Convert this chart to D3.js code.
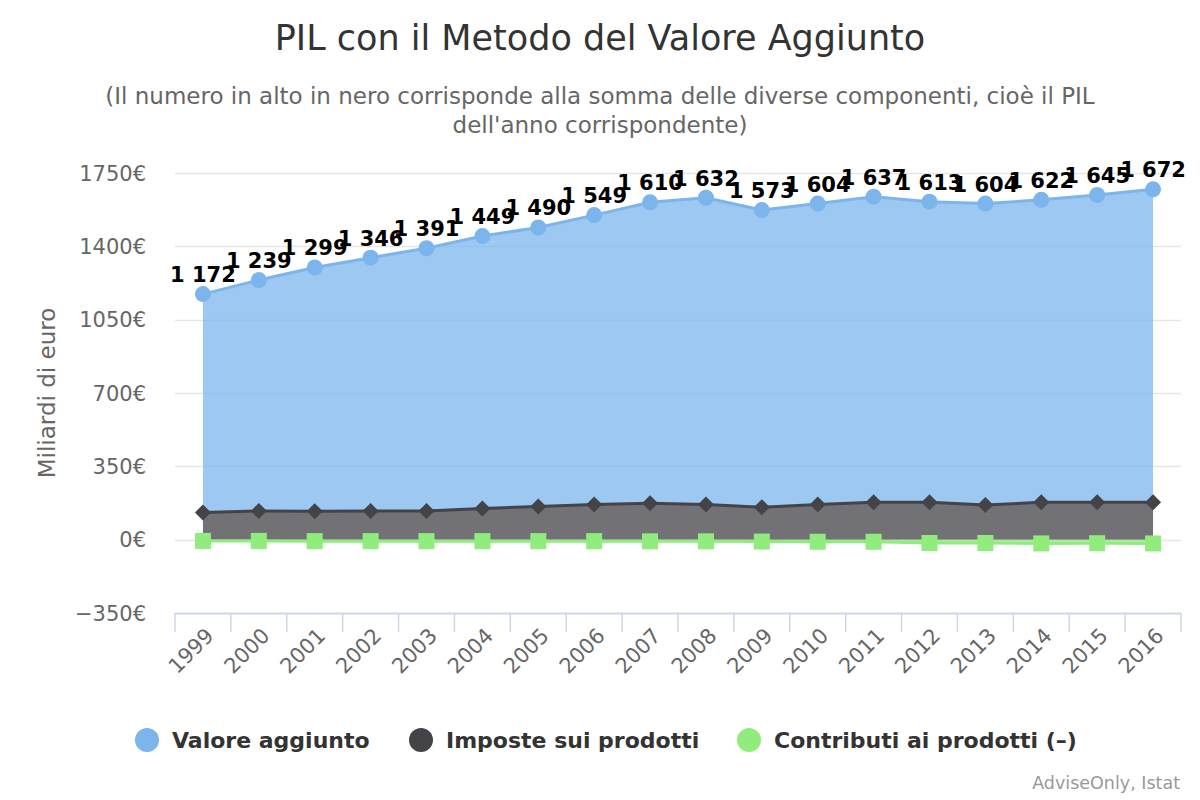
<!DOCTYPE html>
<html>
<head>
<meta charset="utf-8">
<script src="https://cdn.jsdelivr.net/npm/d3@7"></script>
<style>
  body { margin: 0; background: #fff; }
  svg { font-family: "DejaVu Sans", sans-serif; }
</style>
</head>
<body>
<div id="chart"></div>
<script>
// Data (miliardi di euro)
var years = ["1999","2000","2001","2002","2003","2004","2005","2006","2007","2008",
             "2009","2010","2011","2012","2013","2014","2015","2016"];
var valoreAggiunto = [1042,1102,1163,1209,1254,1300,1332,1381,1436,1464,
                      1418,1436,1459,1435,1438,1444,1467,1494];
var imposte = [130,137,136,137,137,149,158,168,174,168,
               155,168,178,178,166,178,178,178];
var contributi = [-6,-6,-7,-7,-7,-7,-7,-7,-8,-8,
                  -9,-10,-10,-16,-16,-18,-17,-18];
var yTicks = [-350,0,350,700,1050,1400,1750];

var seriesNames = ["Valore aggiunto", "Imposte sui prodotti", "Contributi ai prodotti (–)"];
var colors = ["#7cb5ec", "#434348", "#90ed7d"];

var W = 1200, H = 800;
var plot = { left: 175, right: 1181, top: 173, bottom: 613 };

var svg = d3.select("#chart").append("svg")
  .attr("width", W).attr("height", H);

var rows = years.map(function (y, i) {
  return { year: y, va: valoreAggiunto[i], imp: imposte[i], contr: contributi[i] };
});

var x = d3.scaleBand().domain(years).range([plot.left, plot.right]);
var cx = function (d) { return x(d) + x.bandwidth() / 2; };
var y = d3.scaleLinear().domain([-350, 1750]).range([plot.bottom, plot.top]);

// Gridlines
svg.append("g").selectAll("line")
  .data(yTicks.filter(function (t) { return t > -350; }))
  .enter().append("line")
  .attr("x1", plot.left).attr("x2", plot.right)
  .attr("y1", function (d) { return Math.round(y(d)) + 0.5; })
  .attr("y2", function (d) { return Math.round(y(d)) + 0.5; })
  .attr("stroke", "#e6e6e6").attr("stroke-width", 1.5);

// Y axis labels
var euro = d3.format("d");
svg.append("g").selectAll("text")
  .data(yTicks).enter().append("text")
  .attr("x", 146)
  .attr("y", function (d) { return y(d) + 7.5; })
  .attr("text-anchor", "end")
  .style("font-size", "21px")
  .style("fill", "#666666")
  .text(function (d) { return euro(d).replace("-", "−") + "€"; });

svg.append("text")
  .attr("transform", "translate(55," + ((plot.top + plot.bottom) / 2) + ") rotate(-90)")
  .attr("text-anchor", "middle")
  .style("font-size", "23px")
  .style("fill", "#666666")
  .text("Miliardi di euro");

// X axis
var xAxis = svg.append("g");
xAxis.append("line")
  .attr("x1", plot.left).attr("x2", plot.right)
  .attr("y1", plot.bottom + 0.5).attr("y2", plot.bottom + 0.5)
  .attr("stroke", "#ccd6eb").attr("stroke-width", 2);
xAxis.selectAll(".tick")
  .data(years.concat(["end"])).enter().append("line")
  .attr("x1", function (d, i) { return plot.left + i * x.bandwidth(); })
  .attr("x2", function (d, i) { return plot.left + i * x.bandwidth(); })
  .attr("y1", plot.bottom).attr("y2", plot.bottom + 19)
  .attr("stroke", "#ccd6eb").attr("stroke-width", 1.5);
xAxis.selectAll("text")
  .data(years).enter().append("text")
  .attr("transform", function (d) {
    return "translate(" + (cx(d) + 12) + "," + (plot.bottom + 24) + ") rotate(-45)";
  })
  .attr("text-anchor", "end")
  .style("font-size", "21px")
  .style("fill", "#666666")
  .text(function (d) { return d; });

// Stack
var stack = d3.stack()
  .keys(["imp", "va", "contr"])
  .offset(d3.stackOffsetDiverging);
var layers = stack(rows);
var layerByKey = {};
layers.forEach(function (l) { layerByKey[l.key] = l; });

var area = d3.area()
  .x(function (d) { return cx(d.data.year); })
  .y0(function (d) { return y(d[0]); })
  .y1(function (d) { return y(d[1]); });
var line = d3.line()
  .x(function (d) { return cx(d.data.year); })
  .y(function (d) { return y(d[1]); });
var lineNeg = d3.line()
  .x(function (d) { return cx(d.data.year); })
  .y(function (d) { return y(d[0]); });

var order = [
  { key: "va", color: colors[0] },
  { key: "imp", color: colors[1] },
  { key: "contr", color: colors[2] }
];

order.forEach(function (s) {
  var l = layerByKey[s.key];
  svg.append("path").datum(l)
    .attr("d", area)
    .attr("fill", s.color)
    .attr("fill-opacity", 0.75);
});
order.forEach(function (s) {
  var l = layerByKey[s.key];
  svg.append("path").datum(l)
    .attr("d", s.key === "contr" ? lineNeg : line)
    .attr("fill", "none")
    .attr("stroke", s.color)
    .attr("stroke-width", 3);
});

// Markers
svg.append("g").selectAll("circle")
  .data(layerByKey.va).enter().append("circle")
  .attr("cx", function (d) { return cx(d.data.year); })
  .attr("cy", function (d) { return y(d[1]); })
  .attr("r", 8)
  .attr("fill", colors[0]);

svg.append("g").selectAll("path")
  .data(layerByKey.imp).enter().append("path")
  .attr("transform", function (d) {
    return "translate(" + cx(d.data.year) + "," + y(d[1]) + ")";
  })
  .attr("d", "M0,-8L8,0L0,8L-8,0Z")
  .attr("fill", colors[1]);

svg.append("g").selectAll("rect")
  .data(layerByKey.contr).enter().append("rect")
  .attr("x", function (d) { return cx(d.data.year) - 8; })
  .attr("y", function (d) { return y(d[0]) - 8; })
  .attr("width", 16).attr("height", 16)
  .attr("fill", colors[2]);

// Stack totals
var fmt = d3.formatLocale({ decimal: ",", thousands: " ", grouping: [3], currency: ["", "€"] }).format(",.0f");
svg.append("g").selectAll("text")
  .data(rows).enter().append("text")
  .attr("x", function (d) { return cx(d.year); })
  .attr("y", function (d) { return y(d.va + d.imp) - 12; })
  .attr("text-anchor", "middle")
  .style("font-size", "21px")
  .style("font-weight", "bold")
  .style("fill", "#000")
  .text(function (d) { return fmt(d.va + d.imp); });

// Title & subtitle
svg.append("text")
  .attr("x", W / 2).attr("y", 50)
  .attr("text-anchor", "middle")
  .style("font-size", "35px")
  .style("fill", "#333333")
  .text("PIL con il Metodo del Valore Aggiunto");

svg.append("text")
  .attr("x", W / 2).attr("y", 104)
  .attr("text-anchor", "middle")
  .style("font-size", "23px")
  .style("fill", "#666666")
  .text("(Il numero in alto in nero corrisponde alla somma delle diverse componenti, cioè il PIL");
svg.append("text")
  .attr("x", W / 2).attr("y", 133)
  .attr("text-anchor", "middle")
  .style("font-size", "23px")
  .style("fill", "#666666")
  .text("dell'anno corrispondente)");

// Legend
var legendX = [147, 421, 749];
var legend = svg.append("g").selectAll("g")
  .data(seriesNames).enter().append("g")
  .attr("transform", function (d, i) { return "translate(" + legendX[i] + ",740)"; });
legend.append("circle").attr("r", 12)
  .attr("fill", function (d, i) { return colors[i]; });
legend.append("text")
  .attr("x", 25).attr("y", 8)
  .style("font-size", "22px")
  .style("font-weight", "bold")
  .style("fill", "#333333")
  .text(function (d) { return d; });

// Credits
svg.append("text")
  .attr("x", 1180).attr("y", 789)
  .attr("text-anchor", "end")
  .style("font-size", "17.5px")
  .style("fill", "#999999")
  .text("AdviseOnly, Istat");
</script>
</body>
</html>
